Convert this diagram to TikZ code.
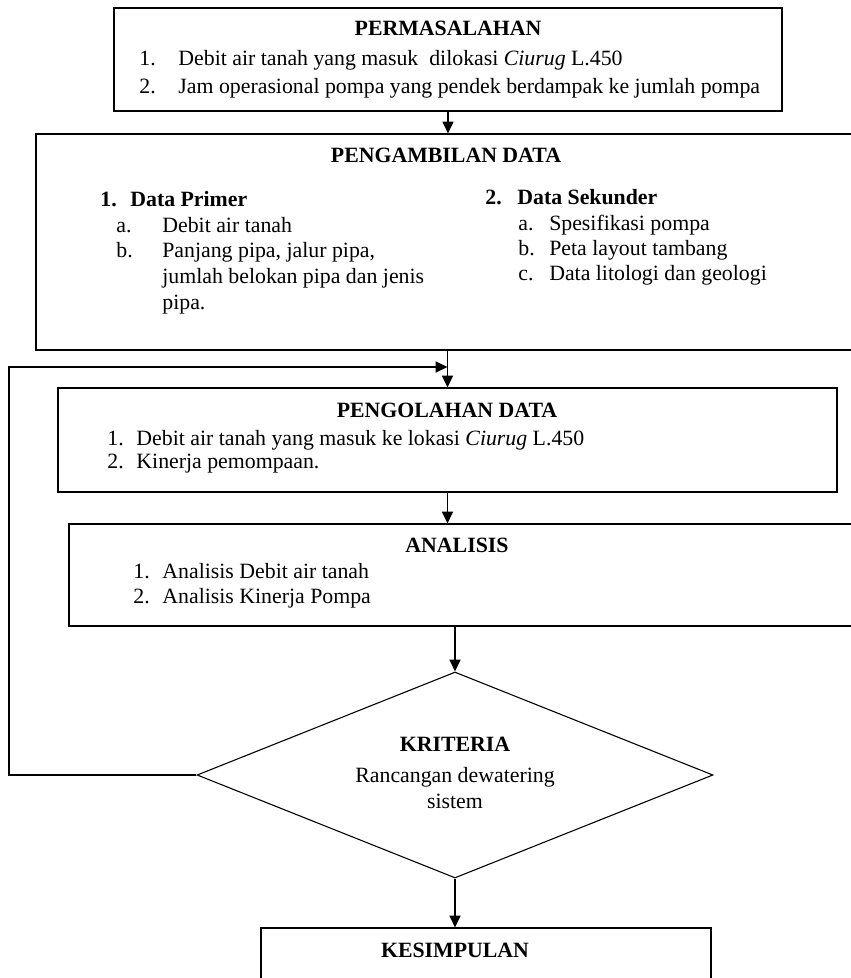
\documentclass[tikz,border=0pt]{standalone}
\usepackage{fontspec}
\setmainfont{Liberation Serif}
\usetikzlibrary{shapes.geometric}
\usetikzlibrary{arrows.meta}
\usetikzlibrary{calc}
\newcommand{\px}{0.55pt}
\newcommand{\ukuran}{\fontsize{12}{14}\selectfont}
\newcommand{\nomor}[2]{\makebox[#1][l]{#2}}

\begin{document}
\begin{tikzpicture}[
  x=0.55pt, y=-0.55pt,
  dep/.style={
    -{Triangle[length=6.5pt,width=6pt]}, line width=0.9pt
  },
  kotak/.style 2 args={
    rectangle,
    draw=black,
    line width=0.6pt,
    minimum width=#1*\px,
    minimum height=#2*\px,
    inner sep=0pt},
  belah/.style 2 args={
    diamond,
    draw=black,
    line width=0.6pt,
    minimum width=#1*\px,
    minimum height=#2*\px,
    inner sep=0pt},
  teks/.style={
    anchor=west, inner sep=0pt, font=\ukuran,
    text height=8.5pt, text depth=2.5pt},
  judul/.style={
    inner sep=0pt, font=\ukuran\bfseries,
    text height=8.5pt, text depth=2.5pt},
]
  \useasboundingbox (0,0) rectangle (850,978);

  % Permasalahan
  \node[kotak={668}{103}] (masalah) at (448,59.5) {};
  \node[judul] (masalahJudul) at (448,30) {PERMASALAHAN};
  \node[teks] (masalah1) at (139,60)
    {\nomor{21.5pt}{1.}Debit air tanah yang masuk\ \ dilokasi \textit{Ciurug} L.450};
  \node[teks] (masalah2) at (139,88)
    {\nomor{21.5pt}{2.}Jam operasional pompa yang pendek berdampak ke jumlah pompa};

  % Pengambilan data
  \node[kotak={834}{216}] (ambil) at (453,242) {};
  \node[judul] (ambilJudul) at (446,157) {PENGAMBILAN DATA};
  \node[teks] (primer) at (100,201) {\bfseries\nomor{16.5pt}{1.}Data Primer};
  \node[teks] (primerA) at (116,227) {\nomor{25.3pt}{a.}Debit air tanah};
  \node[teks] (primerB) at (116,252) {\nomor{25.3pt}{b.}Panjang pipa, jalur pipa,};
  \node[teks] (primerB2) at (162,278) {jumlah belokan pipa dan jenis};
  \node[teks] (primerB3) at (162,304) {pipa.};
  \node[teks] (sekunder) at (485,199) {\bfseries\nomor{17.6pt}{2.}Data Sekunder};
  \foreach \huruf/\isi [count=\i] in {a./Spesifikasi pompa,b./Peta layout tambang,c./Data litologi dan geologi} {
    \node[teks] (sekunder\i) at (518,200+25*\i) {\nomor{17pt}{\huruf}\isi};
  }

  % Pengolahan data
  \node[kotak={779}{104}] (olah) at (447.5,440) {};
  \node[judul] (olahJudul) at (447,412) {PENGOLAHAN DATA};
  \node[teks] (olah1) at (107,440)
    {\nomor{16pt}{1.}Debit air tanah yang masuk ke lokasi \textit{Ciurug} L.450};
  \node[teks] (olah2) at (107,463) {\nomor{16pt}{2.}Kinerja pemompaan.};

  % Analisis
  \node[kotak={801}{102}] (analisis) at (469.5,575) {};
  \node[judul] (analisisJudul) at (457,547) {ANALISIS};
  \node[teks] (analisis1) at (133,573) {\nomor{16pt}{1.}Analisis Debit air tanah};
  \node[teks] (analisis2) at (133,598) {\nomor{16pt}{2.}Analisis Kinerja Pompa};

  % Kriteria
  \node[belah={516}{206}] (kriteria) at (455,775) {};
  \node[judul] (kriteriaJudul) at (455,746) {KRITERIA};
  \node[judul, font=\ukuran] (kriteria1) at (455,777) {Rancangan dewatering};
  \node[judul, font=\ukuran] (kriteria2) at (455,803) {sistem};

  % Kesimpulan
  \node[kotak={450}{72}] (simpulan) at (486,964) {};
  \node[judul] (simpulanJudul) at (455,952) {KESIMPULAN};

  % Panah
  \draw[dep] (masalah.south) -- (masalah.south |- ambil.north);
  \draw[dep] (olah.north |- ambil.south) -- (olah.north);
  \draw[dep] (olah.south) -- (olah.south |- analisis.north);
  \draw[dep] (kriteria.north |- analisis.south) -- (kriteria.north);
  \draw[dep] (kriteria.south) -- (kriteria.south |- simpulan.north);

  % Umpan balik
  \coordinate (kiri) at (9,367);
  \draw[dep, line width=0.8pt] (kriteria.west) -| (kiri) -- (kiri -| olah.north);

\end{tikzpicture}
\end{document}
